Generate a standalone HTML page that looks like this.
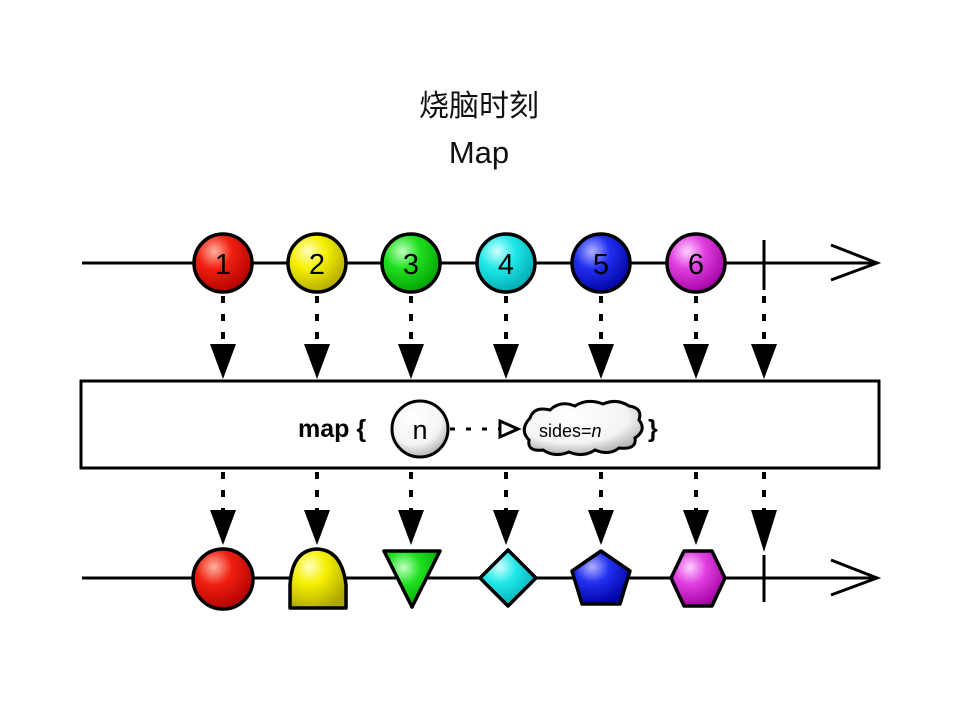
<!DOCTYPE html>
<html><head><meta charset="utf-8"><style>
html,body{margin:0;padding:0;background:#fff;}
svg{display:block;}
</style></head><body>
<svg width="959" height="720" viewBox="0 0 959 720" xmlns="http://www.w3.org/2000/svg">
<defs>
<radialGradient id="gR" cx="35%" cy="30%" r="75%"><stop offset="0" stop-color="#ffb0a0"/><stop offset="0.4" stop-color="#f02010"/><stop offset="1" stop-color="#b00000"/></radialGradient>
<radialGradient id="gY" cx="35%" cy="30%" r="75%"><stop offset="0" stop-color="#ffffc0"/><stop offset="0.4" stop-color="#f5f000"/><stop offset="1" stop-color="#b0a800"/></radialGradient>
<radialGradient id="gG" cx="35%" cy="30%" r="75%"><stop offset="0" stop-color="#c0ffc0"/><stop offset="0.4" stop-color="#20e020"/><stop offset="1" stop-color="#00a000"/></radialGradient>
<radialGradient id="gC" cx="35%" cy="30%" r="75%"><stop offset="0" stop-color="#d0ffff"/><stop offset="0.4" stop-color="#20e8e8"/><stop offset="1" stop-color="#00a8b0"/></radialGradient>
<radialGradient id="gB" cx="35%" cy="30%" r="75%"><stop offset="0" stop-color="#b0b0ff"/><stop offset="0.4" stop-color="#2030f0"/><stop offset="1" stop-color="#0000a0"/></radialGradient>
<radialGradient id="gM" cx="35%" cy="30%" r="75%"><stop offset="0" stop-color="#ffd0ff"/><stop offset="0.4" stop-color="#e040e0"/><stop offset="1" stop-color="#a000a0"/></radialGradient>
<radialGradient id="gW" cx="40%" cy="30%" r="80%"><stop offset="0" stop-color="#fff"/><stop offset="0.6" stop-color="#f4f4f4"/><stop offset="1" stop-color="#999"/></radialGradient>
</defs>

<text x="479" y="116" text-anchor="middle" font-family="Liberation Sans, Noto Sans CJK SC, sans-serif" font-size="30" fill="#111">烧脑时刻</text>
<text x="479" y="163" text-anchor="middle" font-family="Liberation Sans, sans-serif" font-size="31" fill="#111">Map</text>

<g stroke="#000" stroke-width="3" fill="none">
<line x1="82" y1="263" x2="876" y2="263"/>
<polyline points="831,245 877,263 831,280"/>
<line x1="764" y1="240" x2="764" y2="290"/>
<line x1="82" y1="578" x2="876" y2="578"/>
<polyline points="831,560 877,578 831,595"/>
<line x1="764" y1="555" x2="764" y2="602"/>
</g>

<g stroke="#000" stroke-width="4" stroke-dasharray="7,11">
<line x1="223" y1="296" x2="223" y2="345"/><line x1="317" y1="296" x2="317" y2="345"/><line x1="411" y1="296" x2="411" y2="345"/><line x1="506" y1="296" x2="506" y2="345"/><line x1="601" y1="296" x2="601" y2="345"/><line x1="696" y1="296" x2="696" y2="345"/><line x1="764" y1="296" x2="764" y2="345"/>
<line x1="223" y1="472" x2="223" y2="512"/><line x1="317" y1="472" x2="317" y2="512"/><line x1="411" y1="472" x2="411" y2="512"/><line x1="506" y1="472" x2="506" y2="512"/><line x1="601" y1="472" x2="601" y2="512"/><line x1="696" y1="472" x2="696" y2="512"/><line x1="764" y1="472" x2="764" y2="512"/>
</g>
<g fill="#000">
<polygon points="210,344 236,344 223,379"/><polygon points="304,344 330,344 317,379"/><polygon points="398,344 424,344 411,379"/><polygon points="493,344 519,344 506,379"/><polygon points="588,344 614,344 601,379"/><polygon points="683,344 709,344 696,379"/><polygon points="751,344 777,344 764,379"/>
<polygon points="210,510 236,510 223,545"/><polygon points="304,510 330,510 317,545"/><polygon points="398,510 424,510 411,545"/><polygon points="493,510 519,510 506,545"/><polygon points="588,510 614,510 601,545"/><polygon points="683,510 709,510 696,545"/><polygon points="751,510 777,510 764,552"/>
</g>

<g stroke="#000" stroke-width="3.5">
<circle cx="223" cy="263" r="29" fill="url(#gR)"/>
<circle cx="317" cy="263" r="29" fill="url(#gY)"/>
<circle cx="411" cy="263" r="29" fill="url(#gG)"/>
<circle cx="506" cy="263" r="29" fill="url(#gC)"/>
<circle cx="601" cy="263" r="29" fill="url(#gB)"/>
<circle cx="696" cy="263" r="29" fill="url(#gM)"/>
</g>
<g font-family="Liberation Sans, sans-serif" font-size="29" text-anchor="middle" fill="#000">
<text x="223" y="274">1</text><text x="317" y="274">2</text><text x="411" y="274">3</text><text x="506" y="274">4</text><text x="601" y="274">5</text><text x="696" y="274">6</text>
</g>

<rect x="81" y="381" width="798" height="87" fill="#fff" stroke="#000" stroke-width="3"/>
<text x="298" y="437" font-family="Liberation Sans, sans-serif" font-size="25" font-weight="bold">map {</text>
<circle cx="420" cy="429" r="28" fill="url(#gW)" stroke="#000" stroke-width="3"/>
<text x="420" y="439" text-anchor="middle" font-family="Liberation Sans, sans-serif" font-size="27">n</text>
<line x1="450" y1="429" x2="500" y2="429" stroke="#000" stroke-width="3" stroke-dasharray="5,11"/>
<polygon points="500,421 518,429 500,437" fill="#fff" stroke="#000" stroke-width="3"/>
<path d="M530,418 q4,-12 20,-8 q10,-10 25,-4 q12,-8 28,-2 q14,-6 26,2 q14,2 10,14 q8,10 -4,18 q2,12 -16,10 q-10,8 -24,2 q-12,8 -26,2 q-14,6 -26,-2 q-16,2 -14,-10 q-10,-10 1,-22 z" fill="url(#gW)" stroke="#000" stroke-width="3"/>
<text x="539" y="437" font-family="Liberation Sans, sans-serif" font-size="18">sides=<tspan font-style="italic">n</tspan></text>
<text x="648" y="437" font-family="Liberation Sans, sans-serif" font-size="25" font-weight="bold">}</text>

<g stroke="#000" stroke-width="3.5" stroke-linejoin="round">
<circle cx="223" cy="579" r="30" fill="url(#gR)"/>
<path d="M290,608 L290,585 Q292,550 317,549 Q342,550 346,585 L346,608 Z" fill="url(#gY)"/>
<polygon points="384,551 440,551 412,607" fill="url(#gG)"/>
<polygon points="508,550 536,578 508,606 480,578" fill="url(#gC)"/>
<polygon points="601,551 630,571 620,604 582,604 572,571" fill="url(#gB)"/>
<polygon points="684,551 712,551 725,578 712,606 684,606 671,578" fill="url(#gM)"/>
</g>
</svg>
</body></html>
